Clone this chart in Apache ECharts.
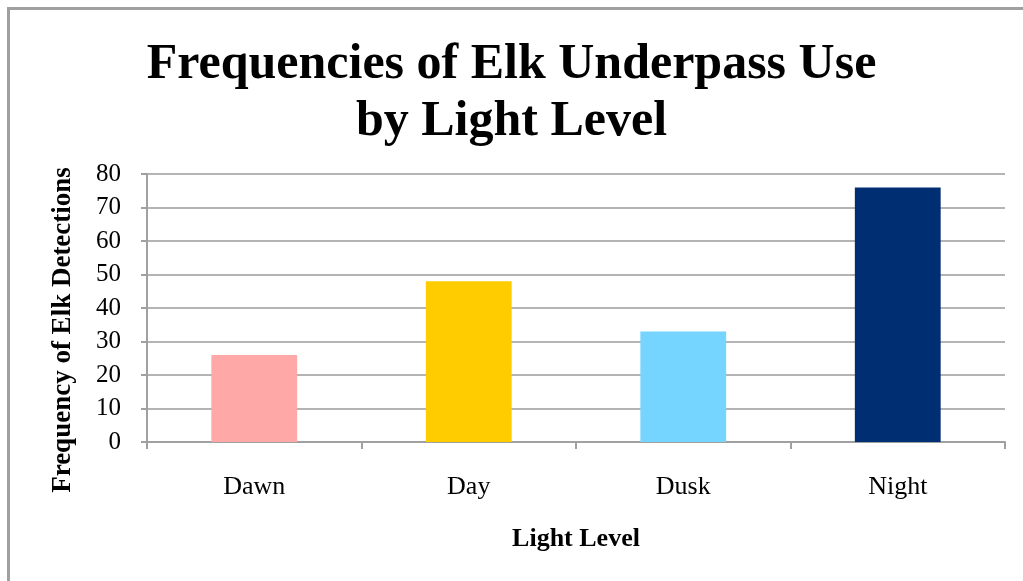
<!DOCTYPE html>
<html>
<head>
<meta charset="utf-8">
<script src="https://cdn.jsdelivr.net/npm/echarts@6/dist/echarts.min.js"></script>
<style>
  html, body { margin: 0; padding: 0; background: #ffffff; }
  #chart { width: 1023px; height: 581px; }
</style>
</head>
<body>
<div id="chart"></div>
<script>
// Elk detections at the underpass, grouped by light level
const lightLevels = ['Dawn', 'Day', 'Dusk', 'Night'];
const detections = [26, 48, 33, 76];
const barColors = ['#ffa8a8', '#ffcc00', '#75d5ff', '#002e73'];
const yTicks = { min: 0, max: 80, interval: 10 };

const serif = '"Liberation Serif", "DejaVu Serif", serif';

const chart = echarts.init(document.getElementById('chart'), null, { renderer: 'canvas' });

chart.setOption({
  backgroundColor: '#ffffff',
  animation: false,
  title: {
    text: 'Frequencies of Elk Underpass Use\nby Light Level',
    left: 'center',
    top: 32,
    textStyle: {
      fontFamily: serif,
      fontWeight: 'bold',
      fontSize: 50,
      lineHeight: 57,
      color: '#000000'
    }
  },
  graphic: [{
    type: 'rect',
    left: 6,
    top: 6,
    shape: { width: 1100, height: 700 },
    style: { fill: 'none', stroke: '#a0a0a0', lineWidth: 3 },
    silent: true
  }],
  grid: { left: 147, right: 18, top: 174, bottom: 139 },
  xAxis: {
    type: 'category',
    data: lightLevels,
    boundaryGap: true,
    name: 'Light Level',
    nameLocation: 'middle',
    nameGap: 84,
    nameTextStyle: { fontFamily: serif, fontWeight: 'bold', fontSize: 26, color: '#000' },
    axisLine: { lineStyle: { color: '#a0a0a0', width: 2 } },
    axisTick: { show: true, length: 7, lineStyle: { color: '#a0a0a0', width: 2 } },
    axisLabel: { margin: 32, fontFamily: serif, fontSize: 26, color: '#000' },
    splitLine: { show: false }
  },
  yAxis: {
    type: 'value',
    min: yTicks.min,
    max: yTicks.max,
    interval: yTicks.interval,
    name: 'Frequency of Elk Detections',
    nameLocation: 'middle',
    nameGap: 70,
    nameRotate: 90,
    nameTextStyle: { fontFamily: serif, fontWeight: 'bold', fontSize: 27, color: '#000', padding: [0, 0, 0, -44] },
    axisLine: { show: true, lineStyle: { color: '#a0a0a0', width: 2 } },
    axisTick: { show: true, length: 6, lineStyle: { color: '#a0a0a0', width: 2 } },
    axisLabel: { margin: 26, fontFamily: serif, fontSize: 25, color: '#000' },
    splitLine: { show: true, lineStyle: { color: '#b4b4b4', width: 2 } }
  },
  series: [{
    type: 'bar',
    data: detections.map((v, i) => ({ value: v, itemStyle: { color: barColors[i] } })),
    barWidth: '40%'
  }]
});
</script>
</body>
</html>
